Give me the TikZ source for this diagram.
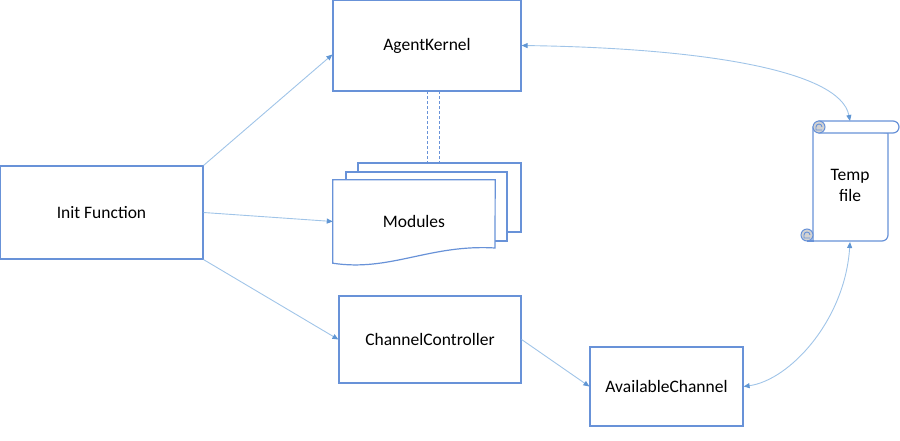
\documentclass[tikz,border=0pt]{standalone}
\usepackage{fontspec}
\setmainfont{Carlito}
\usetikzlibrary{arrows.meta,calc}
\definecolor{boxblue}{RGB}{104,146,216}
\definecolor{arblue}{RGB}{160,196,232}
\definecolor{tipblue}{RGB}{96,150,212}
\tikzset{
  blk/.style   ={draw=boxblue,line width=1.2pt,fill=white,align=center,
                 inner sep=0pt,font=\fontsize{17.5}{21}\selectfont},
  sheet/.style ={draw=boxblue,line width=1.2pt,fill=white},
  ar/.style    ={draw=arblue,line width=0.9pt,
                 -{Triangle[length=6pt,width=5pt,color=tipblue]}},
  dar/.style   ={draw=arblue,line width=0.9pt,
                 {Triangle[length=6pt,width=5pt,color=tipblue]}-{Triangle[length=6pt,width=5pt,color=tipblue]}},
  dsh/.style   ={draw=boxblue,line width=1pt,dash pattern=on 3pt off 2pt},
  curl/.style  ={draw=boxblue,line width=1pt,fill=gray!35},
}

\begin{document}
\begin{tikzpicture}[x=1pt,y=-1pt]
\useasboundingbox (0,0) rectangle (900,440);
% boxes
\node[blk,minimum width=203,minimum height=93] (IF) at (101.5,212.5) {Init Function};
\node[blk,minimum width=188,minimum height=91] (AK) at (427,45.5) {AgentKernel};
\node[blk,minimum width=182,minimum height=87] (CC) at (430,339.5) {ChannelController};
\node[blk,minimum width=153,minimum height=79] (AC) at (666.5,386.5) {AvailableChannel};
% module sheets
\draw[sheet] (358,232) rectangle (521,163);
\draw[sheet] (346,241) rectangle (507,172);
\node[minimum width=162,minimum height=83,inner sep=0pt] (MD) at (414,221.5) {};
\draw[sheet] (MD.north west) -- (MD.north east) -- (495,248)
  .. controls (430,244) and (390,272) .. (MD.south west) -- cycle;
\node[font=\fontsize{17.5}{21}\selectfont] (MT) at (414,221) {Modules};
\draw[dsh] (427,91) -- (427,163);
\draw[dsh] (439,91) -- (439,163);
% temp file scroll
\draw[sheet] (813,127) -- (813,241) -- (882,241)
  arc[start angle=90,end angle=0,radius=6] -- (888,133) -- cycle;
\draw[sheet] (819,121) -- (893,121)
  arc[start angle=-90,end angle=90,radius=6] -- (819,133) -- cycle;
\draw[curl] (819,127) circle[radius=6];
\draw[boxblue,line width=0.9pt] (822,127) arc[start angle=0,end angle=-180,radius=3] -- (816,130) -- (822,130);
\draw[curl] (807,235) circle[radius=6];
\draw[boxblue,line width=0.9pt] (810,235) arc[start angle=0,end angle=-180,radius=3] -- (804,238) -- (810,238);
\draw[boxblue,line width=1.2pt] (807,241) -- (814,241);
\node[align=center,font=\fontsize{17.5}{21}\selectfont] (TF) at (850,185) {Temp\\file};
\coordinate (TFn) at (850,121);
\coordinate (TFs) at (850,242);
% connectors
\draw[ar] (IF.north east) -- ([yshift=-9pt]AK.west);
\draw[ar] (IF.east) -- (MD.west);
\draw[ar] (IF.south east) -- (CC.west);
\draw[ar] (CC.east) -- (AC.west);
\draw[dar] (AK.east) .. controls (700,48) and (840,70) .. (TFn);
\draw[dar] (AC.east) .. controls (790,380) and (845,320) .. (TFs);
\end{tikzpicture}
\end{document}
